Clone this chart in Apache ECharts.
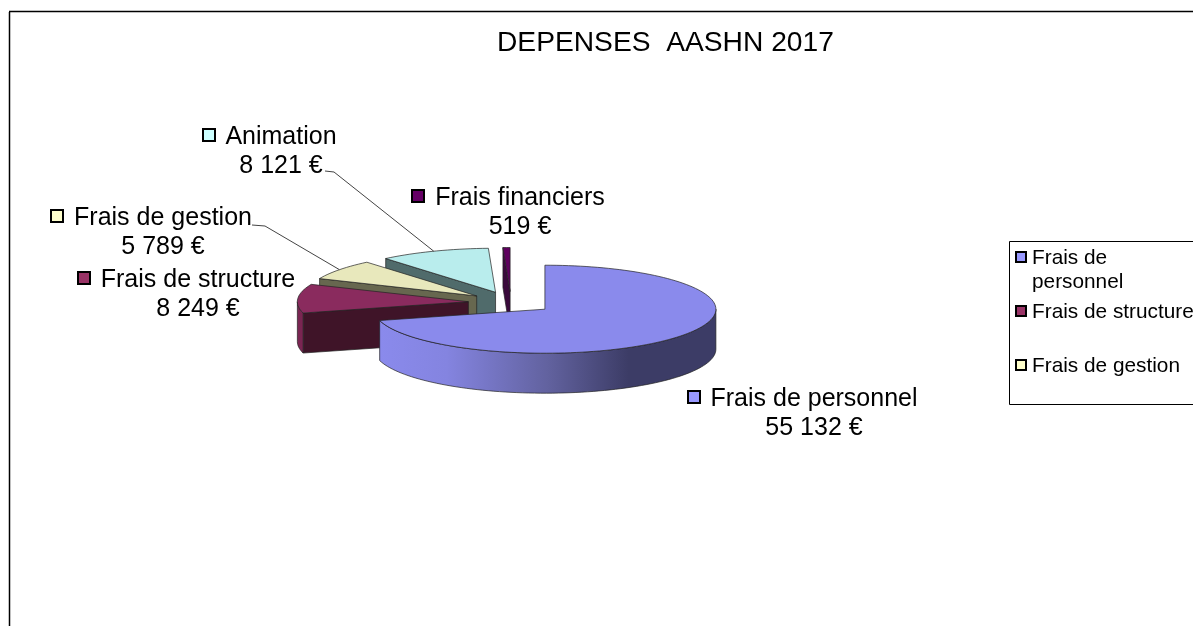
<!DOCTYPE html>
<html>
<head>
<meta charset="utf-8">
<title>DEPENSES AASHN 2017</title>
<script src="https://cdn.jsdelivr.net/npm/echarts@6/dist/echarts.min.js"></script>
<style>
html, body { margin: 0; padding: 0; background: #fff; }
#main { width: 1193px; height: 626px; }
</style>
</head>
<body>
<div id="main"></div>
<script>
// donnees
var categories = ['Frais de personnel', 'Frais de structure', 'Frais de gestion', 'Animation', 'Frais financiers'];
var values = [55132, 8249, 5789, 8121, 519];
var legendItems = ['Frais de\npersonnel', 'Frais de structure', 'Frais de gestion'];

// couleurs
var keyColors = ['#9999ff', '#993366', '#ffffcc', '#ccffff', '#660066'];
var topColors = ['#8a8aec', '#8a2b5e', '#e8e8bc', '#b9eded', '#5e005e'];
var wallColors = ['#3c3c66', '#3f1428', '#67674f', '#506b6b', '#3a0a3c'];
var rimColors = [{
    type: 'linear', x: 0, y: 0, x2: 1, y2: 0,
    colorStops: [
        { offset: 0, color: '#8a8aec' },
        { offset: 0.2, color: '#8484e0' },
        { offset: 0.5, color: '#62629f' },
        { offset: 0.74, color: '#3c3c66' },
        { offset: 1, color: '#3c3c66' }
    ]
}, '#7a2552', '#67674f', '#506b6b', '#3a0a3c'];

// geometrie du camembert
var cx = 511, cy = 302.5, rx = 171, ry = 44, depth = 40, explode = 0.25;
var textFont = 'Liberation Sans, Arial, sans-serif';
var total = values.reduce(function (a, b) { return a + b; }, 0);

// position des etiquettes : centre du texte, y de la 1ere ligne, carre de couleur
var labelLayout = [
    { x: 814, y: 398, keyX: 694 },
    { x: 198, y: 279, keyX: 84 },
    { x: 163, y: 217, keyX: 57 },
    { x: 281, y: 136, keyX: 209 },
    { x: 520, y: 197, keyX: 418 }
];
// depart du trait de rappel
var leaders = { 2: [[252, 225], [265, 226]], 3: [[325, 171], [334, 172]] };

function euro(v) {
    return String(v).replace(/\B(?=\d{3}$)/, ' ') + ' €';
}

function renderSlice(params, api) {
    var idx = params.dataIndex;
    var before = 0;
    for (var i = 0; i < idx; i++) before += values[i];
    var start = before / total * 360;
    var end = start + api.value(0) / total * 360;
    var mid = (start + end) / 2 * Math.PI / 180;
    // eclatement le long de l'angle median
    var ax = cx + explode * rx * Math.sin(mid);
    var ay = cy - explode * ry * Math.cos(mid);
    var z = 10 + (values.length - idx) * 5;

    function rim(deg) {
        var a = deg * Math.PI / 180;
        return [ax + rx * Math.sin(a), ay - ry * Math.cos(a)];
    }
    function down(p) { return [p[0], p[1] + depth]; }
    function arc(a0, a1) {
        var pts = [];
        var n = Math.max(2, Math.ceil((a1 - a0) / 2));
        for (var k = 0; k <= n; k++) pts.push(rim(a0 + (a1 - a0) * k / n));
        return pts;
    }

    var children = [];
    var edge = { stroke: '#222', lineWidth: 0.7 };

    // paroi radiale du debut de la part
    if (Math.sin(start * Math.PI / 180) < -0.001) {
        var p0 = rim(start);
        children.push({
            type: 'polygon', z2: z,
            shape: { points: [[ax, ay], p0, down(p0), [ax, ay + depth]] },
            style: { fill: wallColors[idx], stroke: edge.stroke, lineWidth: edge.lineWidth }
        });
    }
    // paroi exterieure (moitie avant de l'ellipse)
    var r0 = Math.max(start, 90), r1 = Math.min(end, 270);
    if (r1 > r0) {
        var top = arc(r0, r1);
        var bottom = top.map(down).reverse();
        children.push({
            type: 'polygon', z2: z + 1,
            shape: { points: top.concat(bottom) },
            style: { fill: rimColors[idx], stroke: edge.stroke, lineWidth: edge.lineWidth }
        });
    }
    // face du dessus
    children.push({
        type: 'polygon', z2: z + 2,
        shape: { points: [[ax, ay]].concat(arc(start, end)) },
        style: { fill: topColors[idx], stroke: edge.stroke, lineWidth: edge.lineWidth }
    });

    // trait de rappel vers le milieu de l'arc
    if (leaders[idx]) {
        children.push({
            type: 'polyline', z2: 60,
            shape: { points: leaders[idx].concat([rim((start + end) / 2)]) },
            style: { fill: 'none', stroke: '#444', lineWidth: 1 }
        });
    }

    // etiquette
    var lab = labelLayout[idx];
    children.push({
        type: 'rect', z2: 70,
        shape: { x: lab.keyX - 6, y: lab.y - 7, width: 12, height: 12 },
        style: { fill: keyColors[idx], stroke: '#000', lineWidth: 2 }
    });
    children.push({
        type: 'text', z2: 70,
        x: lab.x, y: lab.y - 13,
        style: {
            text: categories[idx] + '\n' + euro(api.value(0)),
            font: '25px ' + textFont,
            lineHeight: 29,
            fill: '#000',
            align: 'center',
            verticalAlign: 'top'
        }
    });

    return { type: 'group', children: children };
}

// legende (coupee par le bord droit comme sur l'original)
var legendRows = [
    { keyY: 257, textY: 246 },
    { keyY: 311, textY: 300 },
    { keyY: 365, textY: 354 }
];
var legendGraphics = [
    { type: 'line', shape: { x1: 9.5, y1: 12, x2: 9.5, y2: 626 }, style: { stroke: '#000', lineWidth: 1.5 } },
    { type: 'line', shape: { x1: 9, y1: 11.5, x2: 1193, y2: 11.5 }, style: { stroke: '#000', lineWidth: 1.5 } },
    { type: 'polyline', shape: { points: [[1193, 241.5], [1009.5, 241.5], [1009.5, 404.5], [1193, 404.5]] }, style: { fill: '#fff', stroke: '#000', lineWidth: 1 } }
];
legendItems.forEach(function (name, i) {
    legendGraphics.push({
        type: 'rect', z: 5,
        shape: { x: 1016, y: legendRows[i].keyY - 5, width: 10, height: 10 },
        style: { fill: keyColors[i], stroke: '#000', lineWidth: 2 }
    });
    legendGraphics.push({
        type: 'text', z: 5, x: 1032, y: legendRows[i].textY,
        style: { text: name, font: '20.8px ' + textFont, lineHeight: 24, fill: '#000', align: 'left', verticalAlign: 'top' }
    });
});

var myChart = echarts.init(document.getElementById('main'));
var option = {
    animation: false,
    backgroundColor: '#fff',
    title: {
        text: 'DEPENSES  AASHN 2017',
        left: 492,
        top: 24,
        textStyle: { fontFamily: textFont, fontSize: 28.2, fontWeight: 'normal', color: '#000' }
    },
    graphic: legendGraphics,
    series: [{
        type: 'custom',
        coordinateSystem: 'none',
        silent: true,
        renderItem: renderSlice,
        data: values.map(function (v, i) { return { name: categories[i], value: [v] }; })
    }]
};
myChart.setOption(option);
</script>
</body>
</html>
